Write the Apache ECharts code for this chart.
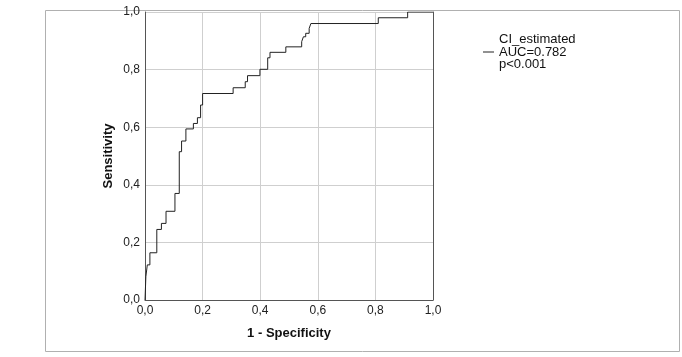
<!DOCTYPE html>
<html>
<head>
<meta charset="utf-8">
<script src="https://cdn.jsdelivr.net/npm/echarts@6/dist/echarts.min.js"></script>
<style>
html,body{margin:0;padding:0;background:#fff;}
#chart{width:682px;height:357px;}
</style>
</head>
<body>
<div id="chart"></div>
<script>
// ROC curve points (1 - specificity, sensitivity)
var fpr = [0.000, 0.003, 0.008, 0.017, 0.041, 0.057, 0.073, 0.104, 0.119, 0.127, 0.142, 0.168, 0.182, 0.193, 0.200,
           0.306, 0.348, 0.356, 0.399, 0.426, 0.434, 0.489, 0.544, 0.550, 0.558, 0.570, 0.576, 0.810, 0.912, 1.000];
var tpr = [0.000, 0.081, 0.122, 0.164, 0.245, 0.266, 0.308, 0.370, 0.515, 0.552, 0.594, 0.613, 0.633, 0.677, 0.717,
           0.737, 0.758, 0.779, 0.801, 0.841, 0.860, 0.879, 0.897, 0.914, 0.926, 0.943, 0.960, 0.980, 1.000, 1.000];
var tickValues = [0, 0.2, 0.4, 0.6, 0.8, 1.0];
var tickLabels = ['0,0', '0,2', '0,4', '0,6', '0,8', '1,0'];
var seriesName = 'CI_estimated';
var legendLines = ['AUC=0.782', 'p<0.001'];
var xTitle = '1 - Specificity';
var yTitle = 'Sensitivity';

function tickFmt(v) {
  for (var i = 0; i < tickValues.length; i++) {
    if (Math.abs(tickValues[i] - v) < 1e-6) return tickLabels[i];
  }
  return '';
}

var data = fpr.map(function (x, i) { return [x, tpr[i]]; });
var font = 'Liberation Sans, Arial, sans-serif';

var chart = echarts.init(document.getElementById('chart'), null, {renderer: 'canvas'});
chart.setOption({
  animation: false,
  backgroundColor: '#fff',
  textStyle: {fontFamily: font},
  grid: {left: 145, top: 12, width: 288, height: 288},
  graphic: [{
    type: 'rect', left: 43, top: 8, silent: true,
    shape: {width: 634, height: 341},
    style: {fill: 'none', stroke: '#b0b0b0', lineWidth: 1}
  }],
  legend: {
    show: true,
    left: 478, top: 28,
    orient: 'vertical',
    icon: 'rect',
    itemWidth: 11, itemHeight: 1,
    data: [seriesName],
    formatter: function (n) { return [n].concat(legendLines).join('\n'); },
    textStyle: {fontFamily: font, fontSize: 13, lineHeight: 12.5, color: '#111'}
  },
  xAxis: {
    type: 'value', min: 0, max: 1, interval: 0.2,
    name: xTitle, nameLocation: 'middle', nameGap: 27,
    nameTextStyle: {fontFamily: font, fontSize: 13, fontWeight: 'bold', color: '#111'},
    axisLine: {show: true, onZero: false, lineStyle: {color: '#555', width: 1}},
    axisTick: {show: false},
    axisLabel: {formatter: tickFmt, fontFamily: font, fontSize: 12, color: '#222', margin: 5},
    splitLine: {show: true, lineStyle: {color: '#cfcfcf', width: 1}}
  },
  yAxis: [{
    type: 'value', min: 0, max: 1, interval: 0.2,
    name: yTitle, nameLocation: 'middle', nameGap: 30,
    nameTextStyle: {fontFamily: font, fontSize: 13, fontWeight: 'bold', color: '#111'},
    axisLine: {show: true, onZero: false, lineStyle: {color: '#555', width: 1}},
    axisTick: {show: false},
    axisLabel: {formatter: tickFmt, fontFamily: font, fontSize: 12, color: '#222', margin: 5},
    splitLine: {show: true, lineStyle: {color: '#cfcfcf', width: 1}}
  }, {
    type: 'value', min: 0, max: 1, position: 'right',
    axisLine: {show: true, onZero: false, lineStyle: {color: '#555', width: 1}},
    axisTick: {show: false}, axisLabel: {show: false}, splitLine: {show: false}
  }],
  series: [{
    name: seriesName,
    type: 'line',
    step: 'end',
    data: data,
    symbol: 'none',
    lineStyle: {color: '#222', width: 1},
    itemStyle: {color: '#222'}
  }]
});
</script>
</body>
</html>
